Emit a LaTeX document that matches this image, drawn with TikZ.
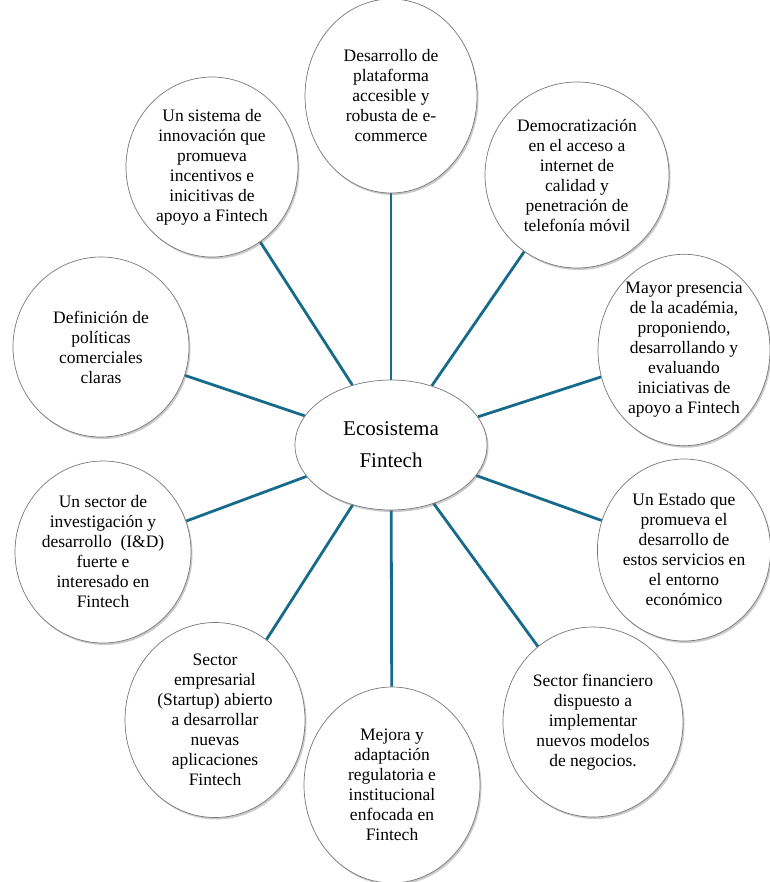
\documentclass[tikz,border=0pt]{standalone}
\usepackage{fontspec}
\setmainfont{Liberation Serif}
\usetikzlibrary{shapes.geometric,shadows,backgrounds}
\definecolor{linkcol}{RGB}{22,106,138}
\definecolor{rimcol}{RGB}{120,120,120}
\tikzset{
  bubble/.style={ellipse, draw=rimcol, line width=0.7bp, fill=white, inner sep=0pt,
    align=center, font=\fontsize{17.5bp}{20bp}\selectfont,
    drop shadow={shadow xshift=1.5bp, shadow yshift=-2bp, opacity=0.35, fill=black!60}},
  hub/.style={bubble, font=\fontsize{21bp}{32bp}\selectfont},
  link/.style={draw=linkcol, line width=2.8bp}
}
\begin{document}
\begin{tikzpicture}[x=1bp,y=-1bp]
\useasboundingbox (0,0) rectangle (770,882);
\node[hub, minimum width=192bp, minimum height=130bp] (c) at (391,445) {Ecosistema\\Fintech};
\node[bubble, minimum width=172bp, minimum height=194bp] (n1) at (391,96) {Desarrollo de\\plataforma\\accesible y\\robusta de e-\\commerce};
\node[bubble, minimum width=184bp, minimum height=186bp] (n2) at (577,175) {Democratización\\en el acceso a\\internet de\\calidad y\\penetración de\\telefonía móvil};
\node[bubble, minimum width=172bp, minimum height=176bp] (n3) at (684,350) {Mayor presencia\\de la académia,\\proponiendo,\\desarrollando y\\evaluando\\iniciativas de\\apoyo a Fintech};
\node[bubble, minimum width=172bp, minimum height=182bp] (n4) at (684,550) {Un Estado que\\promueva el\\desarrollo de\\estos servicios en\\el entorno\\económico};
\node[bubble, minimum width=180bp, minimum height=190bp] (n5) at (593,722) {Sector financiero\\dispuesto a\\implementar\\nuevos modelos\\de negocios.};
\node[bubble, minimum width=176bp, minimum height=196bp] (n6) at (392,785) {Mejora y\\adaptación\\regulatoria e\\institucional\\enfocada en\\Fintech};
\node[bubble, minimum width=180bp, minimum height=195bp] (n7) at (215,720) {Sector\\empresarial\\(Startup) abierto\\a desarrollar\\nuevas\\aplicaciones\\Fintech};
\node[bubble, minimum width=176bp, minimum height=182bp] (n8) at (103,552) {Un sector de\\investigación y\\desarrollo~~(I\&D)\\fuerte e\\interesado en\\Fintech};
\node[bubble, minimum width=176bp, minimum height=180bp] (n9) at (101,347) {Definición de\\políticas\\comerciales\\claras};
\node[bubble, minimum width=172bp, minimum height=180bp] (n10) at (212,167) {Un sistema de\\innovación que\\promueva\\incentivos e\\inicitivas de\\apoyo a Fintech};
\begin{scope}[on background layer]
\foreach \k in {1,...,10} {\draw[link] (c) -- (n\k);}
\end{scope}
\end{tikzpicture}
\end{document}
